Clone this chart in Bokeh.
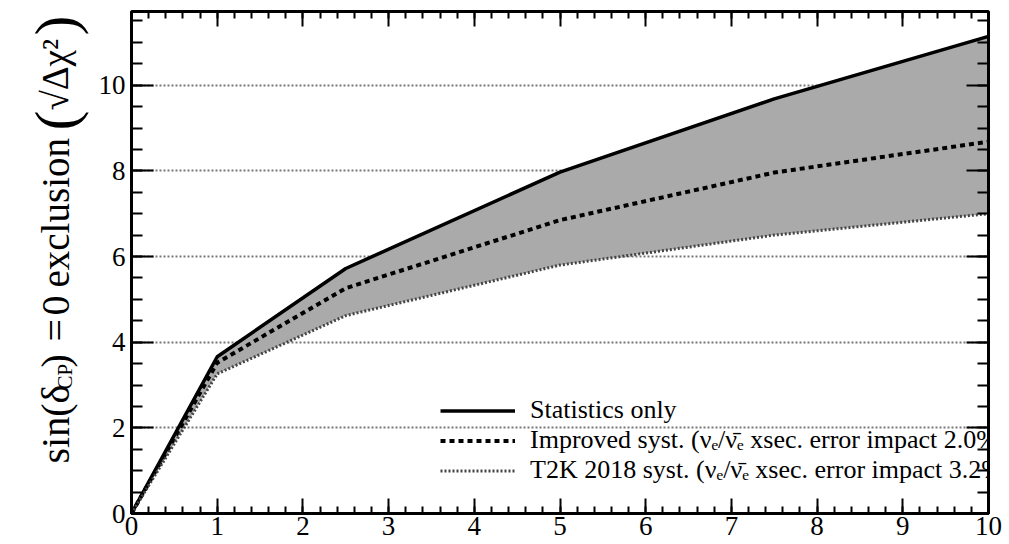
import math
from bokeh.plotting import figure
from bokeh.layouts import row
from bokeh.models import (Range1d, LinearAxis, Legend, LegendItem,
                          SingleIntervalTicker, CustomLabelingPolicy)
from bokeh.core.properties import value
from bokeh.embed import file_html
from bokeh.resources import INLINE

# ---- data ----
exposure = [0, 1, 2.5, 5, 7.5, 10]
stat_only = [0, 3.66, 5.72, 7.97, 9.68, 11.14]
improved_syst = [0, 3.52, 5.26, 6.85, 7.96, 8.68]
t2k2018_syst = [0, 3.26, 4.62, 5.80, 6.50, 7.00]
legend_labels = [
    "Statistics only",
    "Improved syst. (\u03bd\u2091/\u03bd\u0304\u2091 xsec. error impact 2.0%)",
    "T2K 2018 syst. (\u03bd\u2091/\u03bd\u0304\u2091 xsec. error impact 3.2%)",
]
# y-axis title pieces (rotated text, read bottom to top)
ytitle_parts = ["sin(\u03b4", "CP", ")", "=", "0", "exclusion", "(",
                "\u221a\u0394\u03c7\u00b2", ")"]

SERIF = "Liberation Serif"
LEFT_W = 90

p = figure(frame_width=857, frame_height=502,
           x_range=Range1d(0, 10), y_range=Range1d(0, 11.72),
           output_backend="svg", toolbar_location=None,
           min_border_left=131 - LEFT_W, min_border_right=21,
           min_border_top=9, min_border_bottom=33,
           background_fill_color="white", border_fill_color="white")
p.outline_line_color = "black"
p.outline_line_width = 3

# band between statistics only and T2K 2018 systematics
p.varea(x=exposure, y1=t2k2018_syst, y2=stat_only, fill_color="#aaaaaa")

r_stat = p.line(exposure, stat_only, line_color="black", line_width=3.5)
r_imp = p.line(exposure, improved_syst, line_color="black", line_width=4,
               line_dash="5 4")
r_t2k = p.line(exposure, t2k2018_syst, line_color="#444444", line_width=3,
               line_dash="2 2")

# grid
p.xgrid.visible = False
p.ygrid.grid_line_color = "#777777"
p.ygrid.grid_line_width = 2
p.ygrid.grid_line_dash = "2 2"
p.ygrid.ticker = SingleIntervalTicker(interval=2)

def style(ax, ticker, major, minor, labels=True):
    ax.ticker = ticker
    ax.axis_line_color = "black"
    ax.axis_line_width = 3
    ax.major_tick_in = major
    ax.major_tick_out = 0
    ax.minor_tick_in = minor
    ax.minor_tick_out = 0
    ax.major_tick_line_width = 2
    ax.minor_tick_line_width = 2
    ax.major_tick_line_color = "black"
    ax.minor_tick_line_color = "black"
    if labels:
        ax.major_label_text_font = SERIF
        ax.major_label_text_font_size = "27px"
        ax.major_label_text_color = "black"
        ax.major_label_standoff = 3
    else:
        ax.major_label_policy = CustomLabelingPolicy(code="return []")
        ax.major_label_standoff = 0

style(p.xaxis[0], SingleIntervalTicker(interval=1, num_minor_ticks=5), 15, 7)
style(p.yaxis[0], SingleIntervalTicker(interval=2, num_minor_ticks=4), 22, 11)
p.yaxis[0].major_label_standoff = 6

top = LinearAxis()
style(top, SingleIntervalTicker(interval=1, num_minor_ticks=5), 15, 7, labels=False)
p.add_layout(top, "above")
right = LinearAxis()
style(right, SingleIntervalTicker(interval=2, num_minor_ticks=4), 22, 11, labels=False)
p.add_layout(right, "right")

# legend
legend = Legend(items=[LegendItem(label=legend_labels[0], renderers=[r_stat]),
                       LegendItem(label=legend_labels[1], renderers=[r_imp]),
                       LegendItem(label=legend_labels[2], renderers=[r_t2k])],
                location=(309, 28), padding=0, margin=0, spacing=0,
                glyph_width=75, glyph_height=29, label_height=29,
                label_standoff=15, label_text_font=SERIF,
                label_text_font_size="26px", label_text_color="black",
                background_fill_alpha=0, border_line_alpha=0)
p.add_layout(legend)

# ---- narrow panel on the left carrying the y-axis title (pixel coordinates) ----
t = figure(frame_width=LEFT_W, frame_height=544,
           x_range=Range1d(0, LEFT_W), y_range=Range1d(544, 0),
           x_axis_type=None, y_axis_type=None,
           output_backend="svg", toolbar_location=None,
           min_border_left=0, min_border_right=0, min_border_top=0, min_border_bottom=0,
           background_fill_color="white", border_fill_color="white")
t.outline_line_color = None
t.grid.visible = False

def ylab(text, page_y, size, base_x=55):
    t.text(x=[base_x], y=[page_y], text=[text], angle=math.pi / 2,
           text_align="left", text_baseline="alphabetic",
           text_font=value(SERIF), text_font_size=size, text_color="black")

ylab(ytitle_parts[0], 452, "40px")
ylab(ytitle_parts[1], 378, "21px", base_x=64)
ylab(ytitle_parts[2], 356, "40px")
ylab(ytitle_parts[3], 330, "40px")
ylab(ytitle_parts[4], 304, "40px")
ylab(ytitle_parts[5], 276, "39px")
ylab(ytitle_parts[6], 119, "60px")
ylab(ytitle_parts[7], 99, "37px")
ylab(ytitle_parts[8], 24, "60px")

layout = row(t, p, spacing=0)
open("out.html", "w").write(file_html(layout, INLINE))
